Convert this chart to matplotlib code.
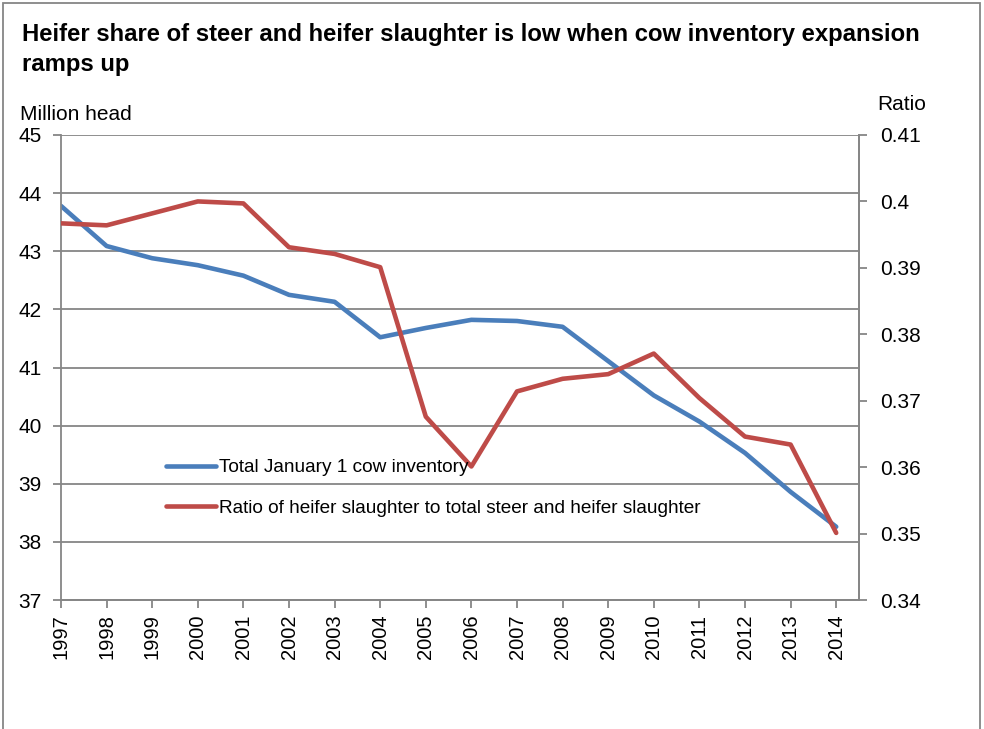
import matplotlib.pyplot as plt
from matplotlib.patches import Rectangle

plt.rcParams['font.family'] = ['Liberation Sans', 'DejaVu Sans']

# data
years = list(range(1997, 2015))
cow_inventory = [43.78, 43.09, 42.88, 42.76, 42.58, 42.25, 42.13, 41.52, 41.68, 41.82,
                 41.80, 41.70, 41.11, 40.52, 40.07, 39.53, 38.86, 38.26]
heifer_ratio = [0.3967, 0.3964, 0.3982, 0.4000, 0.3997, 0.3931, 0.3921, 0.3901, 0.3676, 0.3601,
                0.3714, 0.3733, 0.3740, 0.3771, 0.3704, 0.3646, 0.3634, 0.3501]

blue = '#4A7EBB'
red = '#BE4B48'
grey = '#868686'

fig = plt.figure(figsize=(9.84, 7.29), dpi=100)
ax = fig.add_axes([61 / 984, 1 - 600 / 729, (859 - 61) / 984, (600 - 135) / 729])
ax2 = ax.twinx()

l1, = ax.plot(years, cow_inventory, color=blue, lw=3.3, solid_capstyle='round',
              label='Total January 1 cow inventory')
l2, = ax2.plot(years, heifer_ratio, color=red, lw=3.3, solid_capstyle='round',
               label='Ratio of heifer slaughter to total steer and heifer slaughter')

ax.set_xlim(1997, 2014.5)
ax.set_ylim(37, 45)
ax2.set_ylim(0.34, 0.41)
ax.set_yticks(range(37, 46))
ax2.set_yticks([0.34, 0.35, 0.36, 0.37, 0.38, 0.39, 0.40, 0.41])
ax2.set_yticklabels(['0.34', '0.35', '0.36', '0.37', '0.38', '0.39', '0.4', '0.41'])
ax.set_xticks(years)
ax.set_xticklabels([str(y) for y in years], rotation=90)

ax.grid(axis='y', color=grey, lw=1.3)
ax.set_axisbelow(True)
for a in (ax, ax2):
    for s in a.spines.values():
        s.set_color(grey)
        s.set_linewidth(1.3)
    a.spines['top'].set_visible(False)
    a.tick_params(colors=grey, labelcolor='black', labelsize=15, length=6, width=1.3)
ax2.spines['left'].set_visible(False)
ax.tick_params(axis='x', pad=4.5, labelsize=14.5)
ax.tick_params(axis='y', pad=8)
ax2.tick_params(axis='y', pad=9)

fig.text(22 / 984, 1 - 35 / 729, 'Heifer share of steer and heifer slaughter is low when cow inventory expansion',
         fontsize=17.2, fontweight='bold', va='center')
fig.text(22 / 984, 1 - 65 / 729, 'ramps up', fontsize=17.2, fontweight='bold', va='center')
fig.text(20 / 984, 1 - 114 / 729, 'Million head', fontsize=15, va='center')
fig.text(877 / 984, 1 - 104 / 729, 'Ratio', fontsize=15, va='center')

ax2.legend(handles=[l1, l2], loc='upper left', bbox_to_anchor=(149 / 984, 1 - 442 / 729),
           bbox_transform=fig.transFigure, frameon=False, fontsize=13.7,
           handlelength=2.6, handletextpad=0.2, labelspacing=1.2)

fig.patches.append(Rectangle((3 / 984, -0.01), 977 / 984, 1 - 3 / 729 + 0.01, transform=fig.transFigure,
                             fill=False, edgecolor=grey, lw=1.3))

fig.savefig('out.png', dpi=100)
